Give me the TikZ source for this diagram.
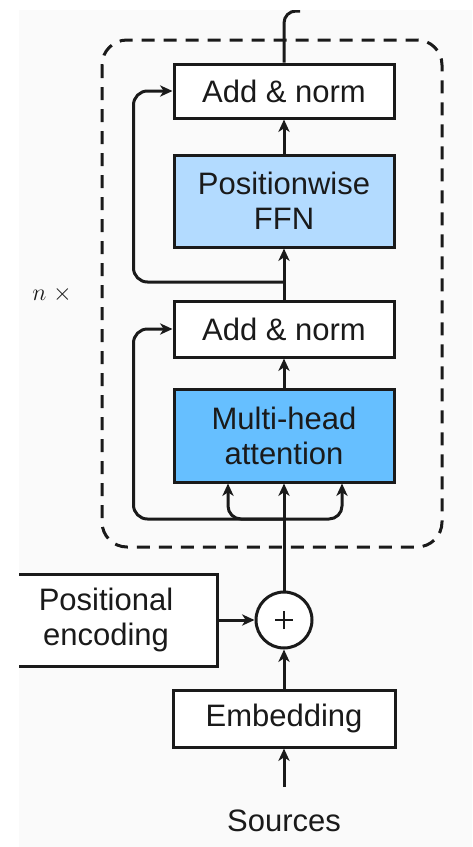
\documentclass[tikz,border=0pt]{standalone}
\usepackage{fontspec}
\setmainfont{Liberation Sans}
\usetikzlibrary{arrows.meta}
\definecolor{bg}{HTML}{FAFAFA}
\definecolor{ffnblue}{HTML}{B3DBFF}
\definecolor{attblue}{HTML}{66BFFF}
\definecolor{ink}{HTML}{1A1A1A}

\begin{document}
\begin{tikzpicture}[x=0.5pt,y=-0.5pt,color=ink,line width=1.5pt,
  blk/.style={draw=ink, rectangle, fill=white, minimum width=110pt,
    align=center, inner sep=0pt,
    font=\fontsize{15.5}{17.5}\selectfont},
  arr/.style={-{Stealth[length=6.2pt,width=5.6pt,inset=1.8pt]}},
  label/.style={font=\fontsize{15.5}{17.5}\selectfont, inner sep=0pt},
]
\useasboundingbox (0,0) rectangle (472,847);
\fill[bg] (19,10) rectangle (472,847);

\begin{scope}
\clip (19,10) rectangle (472,847);

% repeated encoder block
\draw[dash pattern=on 6.5pt off 4.5pt, rounded corners=12.5pt]
  (102,40) rectangle (442,547);

% blocks
\node[blk, minimum height=27pt] (an2) at (284,91) {Add \& norm};
\node[blk, minimum height=46pt, fill=ffnblue] (ffn) at (284,201) {Positionwise\\FFN};
\node[blk, minimum height=28pt] (an1) at (284,329) {Add \& norm};
\node[blk, minimum height=46.5pt, fill=attblue] (mha) at (284,435.5) {Multi-head\\attention};
\node[draw=ink, circle, fill=white, minimum size=28pt, inner sep=0pt] (plus) at (284,620) {};
\node[blk, minimum width=111pt, minimum height=28.5pt] (emb) at (284,718.5) {Embedding};
\node[blk, minimum width=111pt, minimum height=46pt] (pe) at (106,620) {Positional\\encoding};
\node[label] (src) at (284,821) {Sources};
\node[font=\fontsize{13}{15}\selectfont, inner sep=0pt] (rep) at (52,294) {$n\;\times$};

% plus sign
\draw[line width=0.8pt] ([xshift=-4.5pt]plus.center) -- ([xshift=4.5pt]plus.center);
\draw[line width=0.8pt] ([yshift=-4.5pt]plus.center) -- ([yshift=4.5pt]plus.center);

% split points
\coordinate (split1) at (284,519);
\coordinate (split2) at (284,282);
\coordinate (srcin) at (284,787);

% main path
\draw[arr] (srcin) -- (emb.south);
\draw[arr] (emb.north) -- (plus.south);
\draw[arr] (pe.east) -- (plus.west);
\draw[arr] (plus.north) -- (mha.south);
\draw[arr] (mha.north) -- (an1.south);
\draw[arr] (an1.north) -- (ffn.south);
\draw[arr] (ffn.north) -- (an2.south);
\draw[rounded corners=6pt] (an2.north) |- (300,11);

% attention inputs
\draw[arr, rounded corners=6.5pt] (split1) -| ([xshift=-28pt]mha.south);
\draw[arr, rounded corners=6.5pt] (split1) -| ([xshift=29pt]mha.south);

% residual connections
\draw[arr, rounded corners=7pt] (split1) -| ([xshift=-19.5pt]an1.west) -- (an1.west);
\draw[arr, rounded corners=7pt] (split2) -| ([xshift=-19.5pt]an2.west) -- (an2.west);
\end{scope}
\end{tikzpicture}
\end{document}
